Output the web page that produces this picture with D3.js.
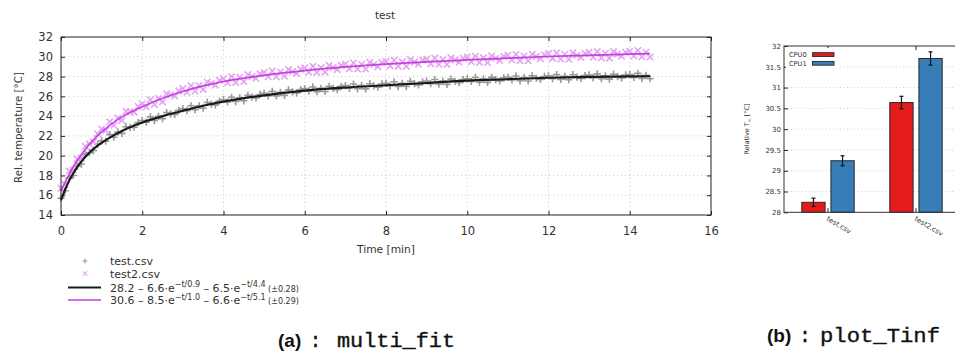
<!DOCTYPE html>
<html><head><meta charset="utf-8">
<script src="https://cdn.jsdelivr.net/npm/d3@7"></script>
<style>
body{margin:0;background:#fff}
svg{display:block;font-family:"DejaVu Sans",sans-serif;fill:#333}
</style></head>
<body><svg id="c" width="955" height="356"></svg>
<script>
// ---------------- data: panel (a) ----------------
const xTicks = [0,2,4,6,8,10,12,14,16];
const yTicks = [14,16,18,20,22,24,26,28,30,32];
const sampleDt = 0.1; // logger sampling interval [min]
const test1 = [15.7,16.45,17.75,18.0,18.95,19.15,20.13,20.3,20.53,21.15,
21.5,21.47,22.13,21.86,22.38,22.25,22.93,22.86,22.88,23.34,
23.55,23.39,23.92,23.55,23.98,23.75,24.36,24.22,24.18,24.59,
24.75,24.55,25.05,24.65,25.05,24.8,25.38,25.21,25.14,25.53,
25.66,25.43,25.9,25.47,25.84,25.55,26.11,25.92,25.83,26.19,
26.3,26.05,26.5,26.05,26.4,26.1,26.65,26.45,26.35,26.69,
26.78,26.52,26.95,26.48,26.81,26.49,27.02,26.8,26.68,27.01,
27.09,26.81,27.24,26.76,27.08,26.75,27.28,27.05,26.92,27.25,
27.32,27.04,27.47,26.99,27.31,26.99,27.51,27.28,27.15,27.47,
27.55,27.27,27.7,27.22,27.54,27.21,27.74,27.51,27.38,27.7,
27.78,27.5,27.91,27.43,27.74,27.41,27.92,27.69,27.55,27.87,
27.93,27.65,28.06,27.57,27.89,27.55,28.07,27.83,27.7,28.01,
28.08,27.79,28.2,27.71,28.02,27.68,28.19,27.94,27.8,28.1,
28.16,27.87,28.27,27.78,28.08,27.74,28.24,28.0,27.85,28.16,
28.21,27.91,28.32,27.82,28.13,27.78];
const test2 = [16.7,17.1,18.45,18.55,19.65,19.75,20.95,21.2,21.4,22.22,
22.7,22.55,23.42,23.07,23.8,23.57,24.47,24.45,24.4,24.98,
25.25,24.93,25.66,25.18,25.79,25.45,26.25,26.14,26.03,26.56,
26.79,26.41,27.08,26.54,27.1,26.7,27.45,27.29,27.13,27.62,
27.8,27.37,27.99,27.41,27.93,27.49,28.2,28.01,27.82,28.27,
28.42,27.97,28.57,27.97,28.47,28.02,28.72,28.51,28.31,28.75,
28.9,28.44,29.03,28.42,28.91,28.44,29.13,28.91,28.7,29.13,
29.27,28.8,29.38,28.76,29.23,28.76,29.44,29.22,29.0,29.42,
29.55,29.07,29.65,29.02,29.49,29.02,29.69,29.46,29.24,29.66,
29.78,29.3,29.87,29.24,29.71,29.23,29.9,29.67,29.44,29.86,
29.98,29.5,30.06,29.43,29.9,29.42,30.08,29.85,29.62,30.04,
30.16,29.67,30.24,29.61,30.08,29.59,30.26,30.03,29.8,30.21,
30.33,29.84,30.4,29.77,30.23,29.74,30.4,30.16,29.93,30.34,
30.45,29.96,30.52,29.89,30.35,29.86,30.52,30.28,30.05,30.46,
30.57,30.08,30.64,30.0,30.46,29.97];
const fitT  = [0,0.1,0.2,0.3,0.4,0.5,0.6,0.7,0.8,1.0,1.2,1.5,2.0,2.5,3.0,3.5,4.0,5.0,6.0,7.0,8.0,9.0,10.0,11.0,12.0,13.0,14.0,14.5];
const fit1  = [15.5,16.55,17.45,18.2,18.85,19.4,19.88,20.3,20.68,21.3,21.83,22.5,23.35,24.0,24.55,25.05,25.46,26.1,26.58,26.89,27.12,27.35,27.58,27.73,27.88,27.96,28.01,28.03];
const fit2  = [16.4,17.3,18.1,18.85,19.5,20.1,20.65,21.15,21.6,22.4,23.07,23.92,24.95,25.8,26.49,27.05,27.5,28.12,28.6,28.97,29.25,29.48,29.68,29.86,30.03,30.15,30.27,30.32];

// ---------------- data: panel (b) ----------------
const barCats = ["test.csv","test2.csv"];
const barSeries = ["CPU0","CPU1"];
const cpu0 = [28.24, 30.64];
const cpu0Err = [0.10, 0.15];
const cpu1 = [29.24, 31.70];
const cpu1Err = [0.12, 0.16];
const barYTicks = [28,28.5,29,29.5,30,30.5,31,31.5,32];

const svg = d3.select("#c");

// ================= panel (a) =================
const x = d3.scaleLinear([0,16],[61,711]);
const y = d3.scaleLinear([14,32],[215,37]);
const gA = svg.append("g");

gA.append("g").selectAll("line").data(xTicks.slice(1,-1)).join("line")
  .attr("x1",d=>x(d)).attr("x2",d=>x(d)).attr("y1",y(14)).attr("y2",y(32))
  .attr("stroke","#c8c8c8").attr("stroke-dasharray","1,3");
gA.append("g").selectAll("line").data(yTicks.slice(1,-1)).join("line")
  .attr("y1",d=>y(d)).attr("y2",d=>y(d)).attr("x1",x(0)).attr("x2",x(16))
  .attr("stroke","#c8c8c8").attr("stroke-dasharray","1,3");

function styleAxis(g){
  g.select(".domain").remove();
  g.selectAll(".tick line").attr("stroke","#222");
  g.selectAll("text").attr("fill","#333").attr("font-family","DejaVu Sans");
}
gA.append("g").attr("transform",`translate(0,${y(14)})`)
  .call(d3.axisBottom(x).tickValues(xTicks).tickSize(-4).tickPadding(12).tickFormat(d3.format("d")))
  .call(styleAxis).selectAll("text").attr("font-size",11.5);
gA.append("g").attr("transform",`translate(0,${y(32)})`)
  .call(d3.axisTop(x).tickValues(xTicks).tickSize(-4).tickFormat(""))
  .call(styleAxis);
gA.append("g").attr("transform",`translate(${x(0)},0)`)
  .call(d3.axisLeft(y).tickValues(yTicks).tickSize(-4).tickPadding(8).tickFormat(d3.format("d")))
  .call(styleAxis).selectAll("text").attr("font-size",11.5);
gA.append("g").attr("transform",`translate(${x(16)},0)`)
  .call(d3.axisRight(y).tickValues(yTicks).tickSize(-4).tickFormat(""))
  .call(styleAxis);

// scatter (dense markers so the samples merge into a band)
const plus = "M-3.6,0H3.6M0,-3.6V3.6";
const cross = "M-3.2,-3.2L3.2,3.2M-3.2,3.2L3.2,-3.2";
gA.append("g").selectAll("path").data(test1).join("path")
  .attr("d",plus).attr("transform",(d,i)=>`translate(${x(i*sampleDt)},${y(d)})`)
  .attr("stroke","#999").attr("stroke-width",1.6).attr("fill","none");
gA.append("g").selectAll("path").data(test2).join("path")
  .attr("d",cross).attr("transform",(d,i)=>`translate(${x(i*sampleDt)},${y(d)})`)
  .attr("stroke","#e6a2f2").attr("stroke-width",1.6).attr("fill","none");

// fit lines
const line = d3.line().x(d=>x(d[0])).y(d=>y(d[1])).curve(d3.curveMonotoneX);
gA.append("path").attr("d",line(fitT.map((t,i)=>[t,fit1[i]])))
  .attr("fill","none").attr("stroke","#1a1a1a").attr("stroke-width",2.2);
gA.append("path").attr("d",line(fitT.map((t,i)=>[t,fit2[i]])))
  .attr("fill","none").attr("stroke","#c63fe3").attr("stroke-width",1.7);

gA.append("rect").attr("x",x(0)).attr("y",y(32)).attr("width",x(16)-x(0)).attr("height",y(14)-y(32))
  .attr("fill","none").attr("stroke","#222").attr("stroke-width",1);

gA.append("text").attr("x",385).attr("y",19).attr("text-anchor","middle").attr("font-size",10.5).text("test");
gA.append("text").attr("x",386).attr("y",253).attr("text-anchor","middle").attr("font-size",10.7).text("Time [min]");
gA.append("text").attr("transform","translate(22,127.5) rotate(-90)").attr("text-anchor","middle")
  .attr("font-size",10.3).text("Rel. temperature [°C]");

// legend
const lg = gA.append("g");
lg.append("path").attr("d","M-2.5,0H2.5M0,-2.5V2.5").attr("transform","translate(85,261)").attr("stroke","#999").attr("stroke-width",1.1);
lg.append("text").attr("x",110).attr("y",265).attr("font-size",11).text("test.csv");
lg.append("path").attr("d","M-2.2,-2.2L2.2,2.2M-2.2,2.2L2.2,-2.2").attr("transform","translate(85,273.5)").attr("stroke","#e6a2f2").attr("stroke-width",1.1);
lg.append("text").attr("x",110).attr("y",277.5).attr("font-size",11).text("test2.csv");
lg.append("line").attr("x1",68).attr("x2",101).attr("y1",287.5).attr("y2",287.5).attr("stroke","#1a1a1a").attr("stroke-width",2.2);
lg.append("line").attr("x1",68).attr("x2",101).attr("y1",300).attr("y2",300).attr("stroke","#c63fe3").attr("stroke-width",1.7);
function formula(yb, parts){
  const t = lg.append("text").attr("x",110).attr("y",yb).attr("font-size",11);
  parts.forEach(p=>{
    const s = t.append("tspan").text(p.t);
    if(p.sup){ s.attr("font-size",8).attr("dy",-4.5); }
    if(p.small){ s.attr("font-size",8); }
    if(p.down){ s.attr("dy",4.5); }
  });
}
formula(291.5,[{t:"28.2 – 6.6·e"},{t:"−t/0.9",sup:true},{t:" – 6.5·e",down:true},{t:"−t/4.4",sup:true},{t:" (±0.28)",small:true,down:true}]);
formula(304,[{t:"30.6 – 8.5·e"},{t:"−t/1.0",sup:true},{t:" – 6.6·e",down:true},{t:"−t/5.1",sup:true},{t:" (±0.29)",small:true,down:true}]);

// ================= panel (b) =================
const gB = svg.append("g");
const xb = d3.scaleBand(barCats,[784,960]);
const xs = d3.scaleBand(barSeries,[-26.2,26.2]).paddingInner(0.2);
const yb = d3.scaleLinear([28,32],[212.3,46]);
const colors = {CPU0:"#e41a1c", CPU1:"#377eb8"};

gB.append("g").selectAll("line").data(barYTicks.slice(1,-1)).join("line")
  .attr("x1",784).attr("x2",960).attr("y1",d=>yb(d)).attr("y2",d=>yb(d))
  .attr("stroke","#cfcfcf").attr("stroke-dasharray","1,2.5");

gB.append("g").attr("transform","translate(784,0)")
  .call(d3.axisLeft(yb).tickValues(barYTicks).tickSize(-4).tickPadding(3).tickFormat(d3.format("")))
  .call(styleAxis).selectAll("text").attr("font-size",7);
gB.append("g").attr("transform",`translate(0,${yb(28)})`)
  .call(d3.axisBottom(xb).tickSize(-4).tickFormat(""))
  .call(styleAxis);
gB.append("g").attr("transform",`translate(0,${yb(32)})`)
  .call(d3.axisTop(xb).tickSize(-4).tickFormat(""))
  .call(styleAxis);

const barData = [];
barCats.forEach((c,i)=>{
  barData.push({cat:c, s:"CPU0", v:cpu0[i], e:cpu0Err[i]});
  barData.push({cat:c, s:"CPU1", v:cpu1[i], e:cpu1Err[i]});
});
const bx = d=>xb(d.cat)+xb.bandwidth()/2+xs(d.s);
gB.append("g").selectAll("rect").data(barData).join("rect")
  .attr("x",bx).attr("width",xs.bandwidth())
  .attr("y",d=>yb(d.v)).attr("height",d=>yb(28)-yb(d.v))
  .attr("fill",d=>colors[d.s]).attr("stroke","#2a2a2a").attr("stroke-width",1);
const eb = gB.append("g").attr("stroke","#111").attr("stroke-width",1.2);
barData.forEach(d=>{
  const cx = bx(d)+xs.bandwidth()/2;
  eb.append("line").attr("x1",cx).attr("x2",cx).attr("y1",yb(d.v-d.e)).attr("y2",yb(d.v+d.e));
  eb.append("line").attr("x1",cx-2).attr("x2",cx+2).attr("y1",yb(d.v-d.e)).attr("y2",yb(d.v-d.e));
  eb.append("line").attr("x1",cx-2).attr("x2",cx+2).attr("y1",yb(d.v+d.e)).attr("y2",yb(d.v+d.e));
});

gB.append("rect").attr("x",784).attr("y",yb(32)).attr("width",176).attr("height",yb(28)-yb(32))
  .attr("fill","none").attr("stroke","#333").attr("stroke-width",1);

gB.append("g").selectAll("text").data(barCats).join("text")
  .attr("transform",d=>`translate(${xb(d)+xb.bandwidth()/2-2},${220}) rotate(31)`)
  .attr("font-size",7).text(d=>d);

const yl = gB.append("text").attr("transform","translate(749,129) rotate(-90)").attr("text-anchor","middle").attr("font-size",6.5);
yl.append("tspan").text("Relative  T");
yl.append("tspan").attr("font-size",4.5).attr("dy",1.5).text("∞");
yl.append("tspan").attr("dy",-1.5).text(" [°C]");

const lgb = gB.append("g");
lgb.append("rect").attr("x",786).attr("y",48).attr("width",52).attr("height",20).attr("fill","#fff");
barSeries.forEach((s,i)=>{
  lgb.append("text").attr("x",789).attr("y",56.8+i*8.7).attr("font-size",6.6).text(s);
  lgb.append("rect").attr("x",812.5).attr("y",52.7+i*8.7).attr("width",21.5).attr("height",3.8)
    .attr("fill",colors[s]).attr("stroke","#2a2a2a").attr("stroke-width",0.9);
});

// ================= captions =================
function caption(xp, ybase, tag, name, nameW){
  const g = svg.append("g");
  g.append("text").attr("x",xp[0]).attr("y",ybase).attr("font-size",19).attr("font-weight","bold")
    .attr("font-family","Liberation Sans").attr("fill","#111").text(tag);
  g.append("text").attr("x",xp[1]).attr("y",ybase).attr("font-size",20)
    .attr("font-family","Liberation Mono").attr("fill","#111").attr("stroke","#111").attr("stroke-width",0.35).text(":");
  g.append("text").attr("x",xp[2]).attr("y",ybase).attr("font-size",20)
    .attr("font-family","Liberation Mono").attr("fill","#111").attr("stroke","#111").attr("stroke-width",0.35)
    .attr("textLength",nameW).attr("lengthAdjust","spacingAndGlyphs").text(name);
}
caption([278,309.5,337],347,"(a)","multi_fit",118);
caption([767,799,820],342,"(b)","plot_Tinf",120);
</script></body></html>
